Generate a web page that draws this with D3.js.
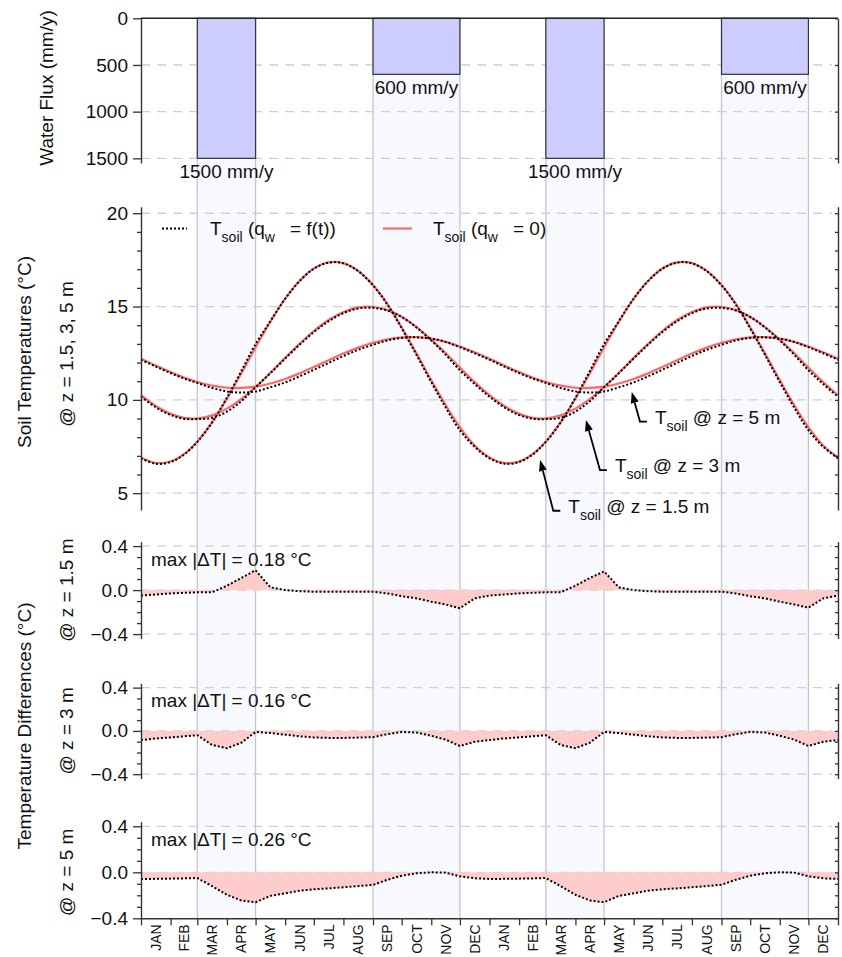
<!DOCTYPE html>
<html>
<head>
<meta charset="utf-8">
<script src="https://cdn.jsdelivr.net/npm/d3@7"></script>
<style>
  body { margin: 0; background: #fff; }
  text { font-family: "Liberation Sans", Arial, sans-serif; fill: #111; }
</style>
</head>
<body>
<svg id="chart" width="842" height="957"></svg>
<script>
// ---------- data ----------
const monthNames = ["JAN","FEB","MAR","APR","MAY","JUN","JUL","AUG","SEP","OCT","NOV","DEC",
                    "JAN","FEB","MAR","APR","MAY","JUN","JUL","AUG","SEP","OCT","NOV","DEC"];
const monthLengths = [31,28,31,30,31,30,31,31,30,31,30,31];

// infiltration events (month index of start / end, flux in mm/y)
const fluxStartMonth = [2, 8, 14, 20];
const fluxEndMonth   = [4, 11, 16, 23];
const fluxValues     = [1500, 600, 1500, 600];
const fluxLabels     = ["1500 mm/y", "600 mm/y", "1500 mm/y", "600 mm/y"];

const fluxTicks  = [0, 500, 1000, 1500];
const tempTicks  = [5, 10, 15, 20];
const diffTicks  = [-0.4, 0.0, 0.4];

// soil temperature without water flux, sampled at month starts and mid-months (°C)
const tempNoFlux15 = [6.92,6.62,6.70,7.09,7.77,8.81,10.07,11.42,12.81,14.19,15.42,16.37,17.04,17.37,17.33,16.91,16.15,15.14,13.89,12.49,11.06,9.73,8.54,7.56,
                      6.92,6.62,6.70,7.09,7.77,8.81,10.07,11.42,12.81,14.19,15.42,16.37,17.04,17.37,17.33,16.91,16.15,15.14,13.89,12.49,11.06,9.73,8.54,7.56,6.92];
const tempNoFlux3  = [10.25,9.67,9.25,9.04,9.01,9.17,9.53,10.04,10.69,11.45,12.25,13.00,13.69,14.28,14.71,14.96,14.99,14.82,14.45,13.90,13.23,12.51,11.73,10.95,
                      10.25,9.67,9.25,9.04,9.01,9.17,9.53,10.04,10.69,11.45,12.25,13.00,13.69,14.28,14.71,14.96,14.99,14.82,14.45,13.90,13.23,12.51,11.73,10.95,10.25];
const tempNoFlux5  = [12.21,11.84,11.49,11.20,10.96,10.76,10.65,10.64,10.71,10.88,11.12,11.42,11.76,12.12,12.48,12.80,13.06,13.25,13.35,13.36,13.28,13.11,12.86,12.55,
                      12.21,11.84,11.49,11.20,10.96,10.76,10.65,10.64,10.71,10.88,11.12,11.42,11.76,12.12,12.48,12.80,13.06,13.25,13.35,13.36,13.28,13.11,12.86,12.55,12.21];

// temperature difference (with flux minus without flux), same sampling (°C)
const diff15 = [-0.05,-0.04,-0.03,-0.025,-0.02,-0.02,0.04,0.11,0.18,0.025,0.0,-0.01,-0.015,-0.015,-0.015,-0.015,-0.015,-0.03,-0.055,-0.075,-0.105,-0.13,-0.165,-0.075,
                -0.05,-0.04,-0.03,-0.025,-0.02,-0.02,0.04,0.11,0.17,0.025,0.0,-0.01,-0.015,-0.015,-0.015,-0.015,-0.015,-0.03,-0.055,-0.075,-0.105,-0.13,-0.16,-0.075,-0.05];
const diff3  = [-0.085,-0.07,-0.06,-0.05,-0.04,-0.13,-0.16,-0.11,-0.01,-0.02,-0.035,-0.05,-0.06,-0.065,-0.065,-0.062,-0.058,-0.03,-0.01,-0.015,-0.045,-0.08,-0.14,-0.10,
                -0.085,-0.07,-0.06,-0.05,-0.04,-0.13,-0.16,-0.11,-0.01,-0.02,-0.035,-0.05,-0.06,-0.065,-0.065,-0.062,-0.058,-0.03,-0.01,-0.015,-0.045,-0.08,-0.14,-0.10,-0.085];
const diff5  = [-0.058,-0.057,-0.055,-0.053,-0.05,-0.12,-0.195,-0.245,-0.26,-0.205,-0.183,-0.16,-0.148,-0.14,-0.13,-0.12,-0.11,-0.065,-0.03,-0.008,0.0,-0.003,-0.035,-0.052,
                -0.058,-0.057,-0.055,-0.053,-0.05,-0.12,-0.195,-0.245,-0.26,-0.205,-0.183,-0.16,-0.148,-0.14,-0.13,-0.12,-0.108,-0.065,-0.03,-0.008,0.0,-0.003,-0.035,-0.052,-0.058];
const diffMaxLabels = ["max |ΔT| = 0.18 °C", "max |ΔT| = 0.16 °C", "max |ΔT| = 0.26 °C"];
const depthLabels = ["@ z = 1.5 m", "@ z = 3 m", "@ z = 5 m"];

// depth call-outs: arrow tip and elbow in (day, °C)
const calloutText     = ["@ z = 5 m", "@ z = 3 m", "@ z = 1.5 m"];
const calloutTipDay   = [514, 466, 418];
const calloutTipTemp  = [10.42, 8.92, 6.78];
const calloutElbowDay = [522.6, 480.7, 431.8];
const calloutElbowTemp= [8.84, 6.24, 4.06];

// ---------- derived day grid ----------
const bounds = [0];
for (let k = 0; k < 24; k++) bounds.push(bounds[k] + monthLengths[k % 12]);
const grid = [];
for (let k = 0; k < 24; k++) { grid.push(bounds[k]); grid.push((bounds[k] + bounds[k + 1]) / 2); }
grid.push(bounds[24]);
const mids = d3.range(24).map(k => (bounds[k] + bounds[k + 1]) / 2);

// ---------- layout ----------
const svg = d3.select("#chart");
const X0 = 141, X1 = 838;
const TOP = 18.3, BOTTOM = 918.3;
const FONT = 19;
const x = d3.scaleLinear().domain([0, bounds[24]]).range([X0, X1]);

const yFlux = d3.scaleLinear().domain([0, 1550]).range([18.3, 163]);
const yTemp = d3.scaleLinear().domain([4.1, 20.35]).range([510, 206.7]);
const yD = [
  d3.scaleLinear().domain([-0.44, 0.44]).range([638.5, 541.7]),
  d3.scaleLinear().domain([-0.44, 0.44]).range([778.5, 683.3]),
  d3.scaleLinear().domain([-0.40, 0.44]).range([918.3, 821.7])
];

// ---------- shaded infiltration periods ----------
const bands = svg.append("g");
fluxValues.forEach((v, i) => {
  const xa = x(bounds[fluxStartMonth[i]]), xb = x(bounds[fluxEndMonth[i]]);
  bands.append("rect").attr("x", xa).attr("y", TOP).attr("width", xb - xa).attr("height", BOTTOM - TOP)
    .attr("fill", "#f8f8ff");
  [xa, xb].forEach(xx => bands.append("line").attr("x1", xx).attr("x2", xx).attr("y1", TOP).attr("y2", BOTTOM)
    .attr("stroke", "#c6c6c6").attr("stroke-width", 1.3));
});

// ---------- dashed grid ----------
const gridG = svg.append("g").attr("stroke", "#cfcfcf").attr("stroke-width", 1.3).attr("stroke-dasharray", "9,7");
function hgrid(scale, vals) {
  vals.forEach(v => gridG.append("line").attr("x1", X0).attr("x2", X1 - 6)
    .attr("y1", scale(v)).attr("y2", scale(v)));
}
hgrid(yFlux, fluxTicks.slice(1));
hgrid(yTemp, tempTicks);
yD.forEach((s, i) => hgrid(s, i === 2 ? diffTicks.slice(1) : diffTicks));

// ---------- water flux bars ----------
fluxValues.forEach((v, i) => {
  const xa = x(bounds[fluxStartMonth[i]]), xb = x(bounds[fluxEndMonth[i]]);
  svg.append("rect").attr("x", xa).attr("y", yFlux(0)).attr("width", xb - xa).attr("height", yFlux(v) - yFlux(0))
    .attr("fill", "#ccccff").attr("stroke", "#333").attr("stroke-width", 1.2);
  svg.append("text").attr("x", (xa + xb) / 2).attr("y", yFlux(v) + 19.5).attr("text-anchor", "middle")
    .attr("font-size", FONT).text(fluxLabels[i]);
});

// ---------- soil temperatures ----------
const tempLine = d3.line().x((d, i) => x(grid[i])).y(d => yTemp(d)).curve(d3.curveCatmullRom.alpha(0.5));
const noFlux = [tempNoFlux15, tempNoFlux3, tempNoFlux5];
const diffs = [diff15, diff3, diff5];
noFlux.forEach(arr => svg.append("path").attr("d", tempLine(arr)).attr("fill", "none")
  .attr("stroke", "#ff6666").attr("stroke-width", 2.2));
noFlux.forEach((arr, j) => {
  const withFlux = arr.map((t, i) => t + diffs[j][i]);
  svg.append("path").attr("d", tempLine(withFlux)).attr("fill", "none")
    .attr("stroke", "#000").attr("stroke-width", 2).attr("stroke-dasharray", "2,2");
});

// ---------- temperature differences ----------
diffs.forEach((arr, j) => {
  const s = yD[j];
  const area = d3.area().x((d, i) => x(grid[i])).y0(s(0)).y1(d => s(d));
  const line = d3.line().x((d, i) => x(grid[i])).y(d => s(d));
  svg.append("path").attr("d", area(arr)).attr("fill", "#ffcccc");
  svg.append("path").attr("d", line(arr)).attr("fill", "none")
    .attr("stroke", "#000").attr("stroke-width", 2).attr("stroke-dasharray", "2,2");
  svg.append("text").attr("x", 151).attr("y", s(0.4) + 19.5).attr("font-size", FONT).text(diffMaxLabels[j]);
});

// ---------- axes ----------
function styleAxis(g) {
  g.attr("font-size", FONT).attr("font-family", "'Liberation Sans', Arial, sans-serif");
  g.selectAll("path.domain").attr("stroke", "#333").attr("stroke-width", 1.4);
  g.selectAll(".tick line").attr("stroke", "#333").attr("stroke-width", 1.3);
  g.selectAll(".tick text").attr("fill", "#111");
}
function leftAxis(scale, major, minor, fmt) {
  const g = svg.append("g").attr("transform", `translate(${X0},0)`)
    .call(d3.axisLeft(scale).tickValues(major).tickSize(8).tickSizeOuter(0).tickPadding(5).tickFormat(fmt));
  styleAxis(g);
  if (minor.length) {
    const m = svg.append("g").attr("transform", `translate(${X0},0)`)
      .call(d3.axisLeft(scale).tickValues(minor).tickSize(4).tickFormat(""));
    m.select("path.domain").remove();
    styleAxis(m);
  }
  const r = svg.append("g").attr("transform", `translate(${X1},0)`)
    .call(d3.axisLeft(scale).tickValues(major.concat(minor)).tickSize(3).tickSizeOuter(0).tickFormat(""));
  styleAxis(r);
}
leftAxis(yFlux, fluxTicks, [], d3.format("d"));
leftAxis(yTemp, tempTicks, [6,7,8,9,11,12,13,14,16,17,18,19], d3.format("d"));
yD.forEach(s => leftAxis(s, diffTicks, [-0.3,-0.2,-0.1,0.1,0.2,0.3], d3.format(".1f")));

// top edge of the flux panel
svg.append("line").attr("x1", X0).attr("x2", X1).attr("y1", yFlux(0)).attr("y2", yFlux(0))
  .attr("stroke", "#222").attr("stroke-width", 1.5);

// bottom month axis
const xa = svg.append("g").attr("transform", `translate(0,${BOTTOM})`)
  .call(d3.axisBottom(x).tickValues(bounds).tickSize(7).tickSizeOuter(0).tickFormat(""));
styleAxis(xa);
svg.append("g").selectAll("text").data(mids).join("text")
  .attr("transform", d => `translate(${x(d)},${BOTTOM + 6}) rotate(-90)`)
  .attr("text-anchor", "end").attr("dy", "0.36em").attr("font-size", 14)
  .text((d, i) => monthNames[i]);

// ---------- axis titles ----------
function vtext(xp, yp, str) {
  svg.append("text").attr("transform", `translate(${xp},${yp}) rotate(-90)`)
    .attr("text-anchor", "middle").attr("font-size", FONT).text(str);
}
vtext(53, 88, "Water Flux (mm/y)");
vtext(31, 352, "Soil Temperatures (°C)");
vtext(73, 354, "@ z = 1.5, 3, 5 m");
vtext(31, 726, "Temperature Differences (°C)");
yD.forEach((s, j) => vtext(73, s(0), depthLabels[j]));

// ---------- text with subscripts ----------
function subText(xp, yp, parts) {
  const t = svg.append("text").attr("x", xp).attr("y", yp).attr("font-size", FONT);
  let shifted = false;
  parts.forEach(p => {
    const ts = t.append("tspan").text(p.s);
    if (p.sub) { ts.attr("font-size", 14).attr("dy", 7); shifted = true; }
    else if (shifted) { ts.attr("dy", -7); shifted = false; }
    if (p.dx) ts.attr("dx", p.dx);
  });
  return t;
}

// legend
svg.append("line").attr("x1", 162).attr("x2", 187).attr("y1", 228.5).attr("y2", 228.5)
  .attr("stroke", "#000").attr("stroke-width", 2).attr("stroke-dasharray", "2,2");
subText(210, 235, [{s: "T"}, {s: "soil", sub: true}, {s: " (q"}, {s: "w", sub: true}, {s: "= f(t))", dx: 15}]);
svg.append("line").attr("x1", 383).attr("x2", 412).attr("y1", 228.5).attr("y2", 228.5)
  .attr("stroke", "#ff6666").attr("stroke-width", 2.2);
subText(433, 235, [{s: "T"}, {s: "soil", sub: true}, {s: " (q"}, {s: "w", sub: true}, {s: "= 0)", dx: 15}]);

// depth call-outs with arrows
calloutText.forEach((str, i) => {
  const tx = x(calloutTipDay[i]), ty = yTemp(calloutTipTemp[i]);
  const ex = x(calloutElbowDay[i]), ey = yTemp(calloutElbowTemp[i]);
  const ang = Math.atan2(ty - ey, tx - ex);
  const L = 11, W = 4;
  const bx = tx - L * Math.cos(ang), by = ty - L * Math.sin(ang);
  svg.append("path").attr("d", `M${ex + 7},${ey}L${ex},${ey}L${bx},${by}`)
    .attr("fill", "none").attr("stroke", "#000").attr("stroke-width", 1.8);
  svg.append("path").attr("d",
      `M${tx},${ty}L${bx + W * Math.sin(ang)},${by - W * Math.cos(ang)}L${bx - W * Math.sin(ang)},${by + W * Math.cos(ang)}Z`)
    .attr("fill", "#000");
  subText(ex + 15, ey + 2, [{s: "T"}, {s: "soil", sub: true}, {s: " " + str}]);
});
</script>
</body>
</html>
